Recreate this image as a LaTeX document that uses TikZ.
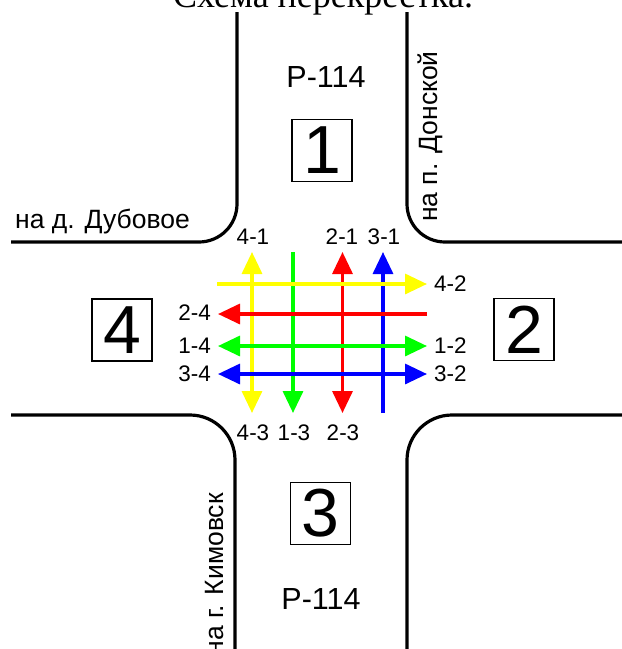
\documentclass[tikz,border=0pt]{standalone}
\usepackage{fontspec}
\setmainfont{Liberation Sans}
\newfontfamily\titlefont{Liberation Serif}
\usetikzlibrary{arrows.meta}
\definecolor{cyel}{RGB}{255,255,0}
\definecolor{cgrn}{RGB}{0,255,0}
\definecolor{cred}{RGB}{255,0,0}
\definecolor{cblu}{RGB}{0,0,255}
\tikzset{
  road/.style={line width=3.2pt, line cap=butt},
  mv/.style={line width=3.3pt},
  tipA/.style={-{Triangle[length=22pt,width=20pt]}},
  tipB/.style={{Triangle[length=22pt,width=20pt]}-{Triangle[length=22pt,width=20pt]}},
  lbl/.style={inner sep=0pt, font=\fontsize{22.5}{22.5}\selectfont},
  numbox/.style={draw, line width=1.4pt, minimum width=60pt, minimum height=62pt, inner sep=0pt, font=\fontsize{68}{68}\selectfont},
  roadname/.style={inner sep=0pt, font=\fontsize{30.5}{30.5}\selectfont},
  dir/.style={inner sep=0pt, font=\fontsize{26.5}{26.5}\selectfont},
}
\begin{document}
\begin{tikzpicture}[x=1pt,y=-1pt]
\useasboundingbox (0,0) rectangle (622,649);
% title (cut off at top)
\node[inner sep=0pt, anchor=base, font=\titlefont\fontsize{36}{36}\selectfont] (title) at (323,7) {Схема перекрестка.};
% roads
\draw[road, rounded corners=38pt] (237,12) -- (237,242) -- (11,242);
\draw[road, rounded corners=38pt] (407,12) -- (407,242) -- (630,242);
\draw[road, rounded corners=45pt] (11,415) -- (235,415) -- (235,660);
\draw[road, rounded corners=45pt] (630,415) -- (407,415) -- (407,660);
% road names
\node[roadname] (r1) at (326,77) {Р-114};
\node[roadname] (r3) at (321,599) {Р-114};
\node[dir, anchor=base west] (dub) at (15,228) {на д. Дубовое};
\node[dir, anchor=base west, rotate=90] (don) at (437,222) {на п. Донской};
\node[dir, anchor=base east, rotate=90] (kim) at (223,493) {на г. Кимовск};
% numbered boxes
\node[numbox] (b1) at (322,150.5) {1};
\node[numbox] (b2) at (524,329.5) {2};
\node[numbox] (b3) at (320.5,513.5) {3};
\node[numbox] (b4) at (122,330) {4};
% endpoints
\coordinate (yvT) at (252,252); \coordinate (yvB) at (252,413);
\coordinate (gvT) at (293,252); \coordinate (gvB) at (293,413);
\coordinate (rvT) at (342.5,252); \coordinate (rvB) at (342.5,413);
\coordinate (bvT) at (383,252); \coordinate (bvB) at (383,413);
\coordinate (yhL) at (217,284); \coordinate (yhR) at (427,284);
\coordinate (rhL) at (218,314); \coordinate (rhR) at (427,314);
\coordinate (ghL) at (218,346); \coordinate (ghR) at (427,346);
\coordinate (bhL) at (218,374); \coordinate (bhR) at (427,374);
% movements: vertical
\draw[mv, cyel, tipB] (yvT) -- (yvB);
\draw[mv, cgrn, tipA] (gvT) -- (gvB);
\draw[mv, cred, tipB] (rvT) -- (rvB);
\draw[mv, cblu, tipA] (bvB) -- (bvT);
% movements: horizontal
\draw[mv, cyel, tipA] (yhL) -- (yhR);
\draw[mv, cred, tipA] (rhR) -- (rhL);
\draw[mv, cgrn, tipB] (ghL) -- (ghR);
\draw[mv, cblu, tipB] (bhL) -- (bhR);
% labels
\node[lbl] (l41) at (253,237) {4-1};
\node[lbl] (l21) at (342,237) {2-1};
\node[lbl] (l31) at (384,237) {3-1};
\node[lbl] (l43) at (253,433) {4-3};
\node[lbl] (l13) at (294,433) {1-3};
\node[lbl] (l23) at (343,433) {2-3};
\node[lbl, anchor=west] (l42) at (434,284) {4-2};
\node[lbl, anchor=west] (l12) at (434,346) {1-2};
\node[lbl, anchor=west] (l32) at (434,374) {3-2};
\node[lbl, anchor=east] (l24) at (211,313) {2-4};
\node[lbl, anchor=east] (l14) at (211,346) {1-4};
\node[lbl, anchor=east] (l34) at (211,374) {3-4};
\end{tikzpicture}
\end{document}
